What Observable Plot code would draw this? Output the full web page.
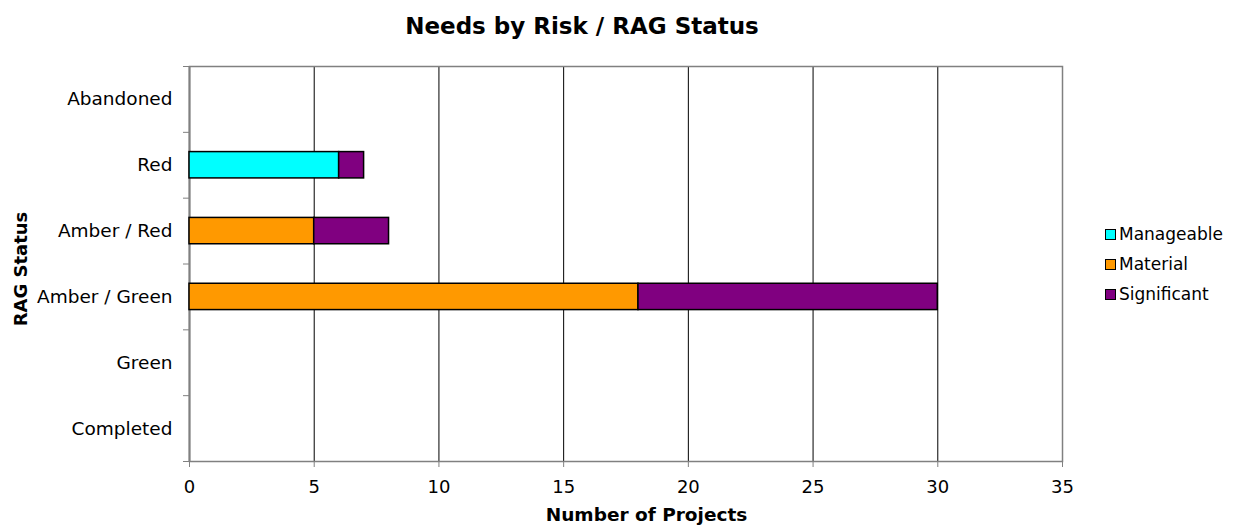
<!DOCTYPE html>
<html><head><meta charset="utf-8">
<script src="https://cdn.jsdelivr.net/npm/d3@7"></script>
<script src="https://cdn.jsdelivr.net/npm/@observablehq/plot@0.6"></script>
<style>
body{margin:0;background:#fff;font-family:"DejaVu Sans",sans-serif;color:#000;}
#wrap{position:relative;width:1237px;height:525px;overflow:hidden;}
.ov{position:absolute;white-space:nowrap;}
#title{left:0;width:1164px;top:12px;text-align:center;font-weight:bold;font-size:23px;line-height:28px;}
#xlab{left:210px;width:873px;top:504px;text-align:center;font-weight:bold;font-size:18.5px;line-height:22px;}
#ylab{left:21px;top:269px;font-weight:bold;font-size:18px;transform:translate(-50%,-50%) rotate(-90deg);line-height:22px;}
.leg{left:1105px;font-size:17px;line-height:20px;display:flex;align-items:center;}
.sw{width:9px;height:9px;border:1.5px solid #000;margin-right:3px;}
</style></head><body><div id="wrap"></div>
<script>
const statuses = ["Abandoned", "Red", "Amber / Red", "Amber / Green", "Green", "Completed"];
const seriesNames = ["Manageable", "Material", "Significant"];
const seriesColors = ["#00FFFF", "#FF9900", "#800080"];
const manageable = [0, 6, 0, 0, 0, 0];
const material = [0, 0, 5, 18, 0, 0];
const significant = [0, 1, 3, 12, 0, 0];
const xTicks = [0, 5, 10, 15, 20, 25, 30, 35];
const titleText = "Needs by Risk / RAG Status";
const xLabel = "Number of Projects";
const yLabel = "RAG Status";

const seriesValues = [manageable, material, significant];
const rows = [];
statuses.forEach((s, i) => {
  seriesNames.forEach((n, k) => {
    const v = seriesValues[k][i];
    if (v > 0) rows.push({status: s, i, series: n, value: v});
  });
});
const centers = statuses.map((s, i) => i);
const bounds = d3.range(-0.5, statuses.length, 1);
const half = 0.2;

const chart = Plot.plot({
  width: 1237,
  height: 525,
  marginLeft: 189,
  marginRight: 175,
  marginTop: 66,
  marginBottom: 64,
  style: {fontFamily: "DejaVu Sans, sans-serif", fontSize: "18px", color: "#000", background: "#fff"},
  x: {domain: [0, 35], label: null},
  y: {domain: [-0.5, statuses.length - 0.5], reverse: true, label: null},
  color: {domain: seriesNames, range: seriesColors},
  marks: [
    Plot.ruleX(xTicks.filter(t => t > 0 && t < 35), {stroke: "#000", strokeWidth: 1}),
    Plot.frame({stroke: "#808080", strokeWidth: 1.5}),
    Plot.ruleX([0], {stroke: "#808080", strokeWidth: 2}),
    Plot.rectX(rows, {x: "value", y1: d => d.i - half, y2: d => d.i + half, fill: "series", stroke: "#000", strokeWidth: 1.5}),
    Plot.axisX({ticks: xTicks, tickSize: 6, tickPadding: 13, stroke: "#808080", fill: "#000", label: null, fontSize: 18, tickFormat: d => String(d)}),
    Plot.axisY({ticks: centers, tickSize: 0, tickPadding: 17, fill: "#000", label: null, fontSize: 18.5, tickFormat: i => statuses[i]}),
    Plot.axisY({ticks: bounds, tickSize: 6, stroke: "#808080", label: null, tickFormat: () => ""})
  ]
});
const wrap = document.getElementById("wrap");
wrap.appendChild(chart);
function addDiv(id, cls, text) {
  const d = document.createElement("div");
  if (id) d.id = id;
  d.className = cls;
  d.textContent = text;
  wrap.appendChild(d);
  return d;
}
addDiv("title", "ov", titleText);
addDiv("xlab", "ov", xLabel);
addDiv("ylab", "ov", yLabel);
seriesNames.forEach((n, k) => {
  const d = document.createElement("div");
  d.className = "ov leg";
  d.style.top = (224 + k * 30) + "px";
  const sw = document.createElement("span");
  sw.className = "sw";
  sw.style.background = seriesColors[k];
  const t = document.createElement("span");
  t.textContent = n;
  d.appendChild(sw); d.appendChild(t);
  wrap.appendChild(d);
});
</script></body></html>
